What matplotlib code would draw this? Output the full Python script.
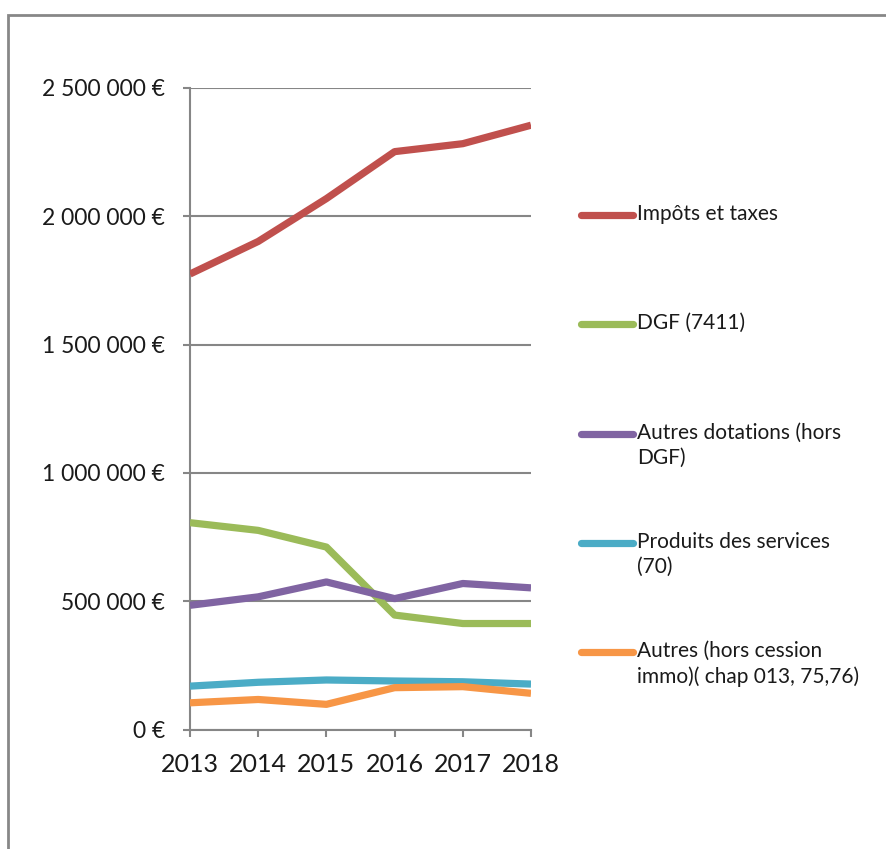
import matplotlib
matplotlib.use("Agg")
import matplotlib.pyplot as plt
from matplotlib import font_manager
from matplotlib.lines import Line2D
from matplotlib.patches import Rectangle
from matplotlib.ticker import FuncFormatter

# pick fonts that exist on this machine
installed = {f.name for f in font_manager.fontManager.ttflist}
base_font = "Lato" if "Lato" in installed else "DejaVu Sans"
year_font = "Liberation Sans Narrow" if "Liberation Sans Narrow" in installed else base_font
plt.rcParams['font.family'] = [base_font, 'DejaVu Sans']

years = [2013, 2014, 2015, 2016, 2017, 2018]

impots_taxes = [1775000, 1902000, 2069000, 2252000, 2283000, 2355000]
dgf = [806000, 776000, 711000, 446000, 413000, 413000]
autres_dotations = [484000, 517000, 575000, 510000, 569000, 552000]
produits_services = [169000, 184000, 193000, 189000, 186000, 177000]
autres = [104000, 117000, 98000, 163000, 167000, 141000]

labels = [
    "Impôts et taxes",
    "DGF (7411)",
    "Autres dotations (hors\nDGF)",
    "Produits des services\n(70)",
    "Autres (hors cession\nimmo)( chap 013, 75,76)",
]
colors = ['#C0504D', '#9BBB59', '#8064A2', '#4BACC6', '#F79646']
series = [impots_taxes, dgf, autres_dotations, produits_services, autres]

W, H = 886, 849
fig = plt.figure(figsize=(W / 100, H / 100), dpi=100)
ax = fig.add_axes([190 / W, (H - 729.5) / H, 341 / W, 641.5 / H])

for values, color in zip(series, colors):
    ax.plot(years, values, color=color, linewidth=5.2,
            solid_joinstyle='round', solid_capstyle='butt', zorder=3)

ax.set_xlim(2013, 2018)
ax.set_ylim(0, 2500000)
ax.set_xticks(years)
ax.set_yticks(range(0, 2500001, 500000))
ax.yaxis.set_major_formatter(FuncFormatter(
    lambda v, pos: f"{v:,.0f}".replace(",", " ") + " €"))

grid_color = '#868686'
ax.grid(axis='y', color=grid_color, linewidth=1.5, zorder=1)
for side in ['top', 'right']:
    ax.spines[side].set_visible(False)
for side in ['left', 'bottom']:
    ax.spines[side].set_color(grid_color)
    ax.spines[side].set_linewidth(1.5)
ax.tick_params(axis='both', colors=grid_color, width=1.5, length=5,
               labelcolor='#1a1a1a')
ax.tick_params(axis='y', labelsize=16.5, pad=13)
ax.tick_params(axis='x', labelsize=18, pad=12)
for lbl in ax.get_xticklabels():
    lbl.set_family([year_font, 'DejaVu Sans'])

# legend drawn by hand so the key sits on the first line of each label
legend_y = [215, 324, 434, 543, 652]
for label, color, y in zip(labels, colors, legend_y):
    yf = (H - y) / H
    fig.add_artist(Line2D([581 / W, 633 / W], [yf, yf], color=color,
                          linewidth=5.2, solid_capstyle='round'))
    fig.text(637 / W, (H - y + 11) / H, label, fontsize=15, color='#1a1a1a',
             va='top', ha='left', linespacing=1.3)

# chart area border
fig.add_artist(Rectangle((8 / W, -0.1), 2, (H - 15) / H + 0.1,
                         transform=fig.transFigure, fill=False,
                         edgecolor='#878787', linewidth=2))

fig.savefig("out.png", dpi=100)
